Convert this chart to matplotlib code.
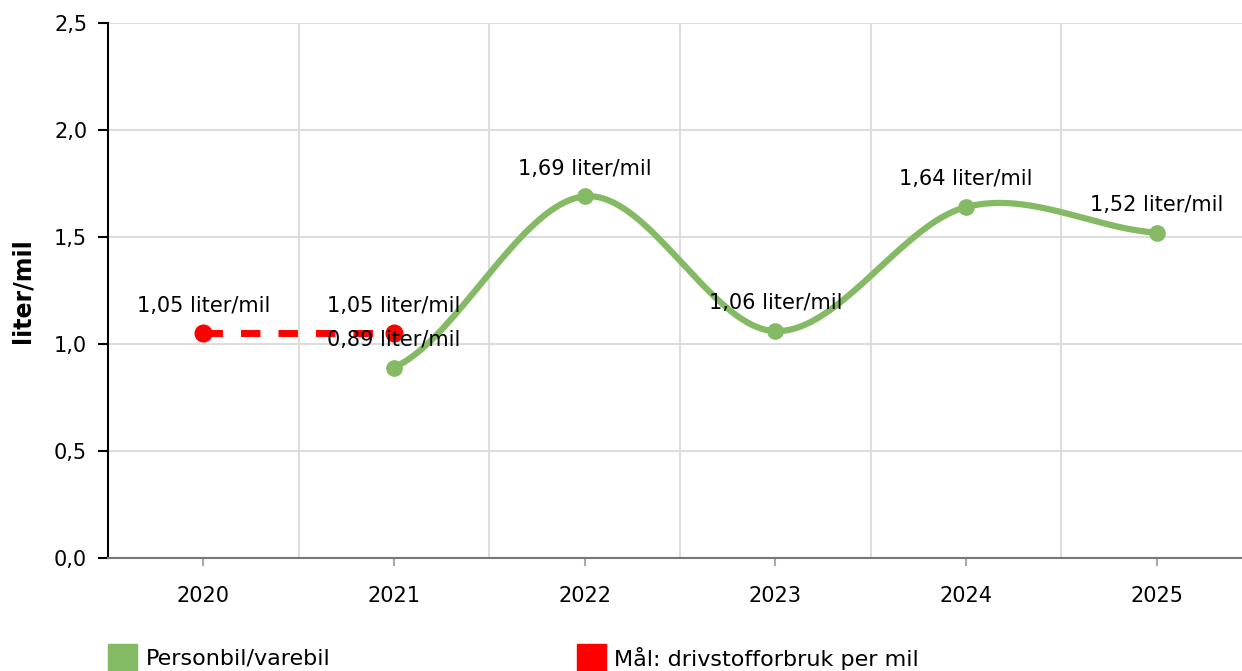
import numpy as np
import matplotlib
matplotlib.use("Agg")
import matplotlib.pyplot as plt
from matplotlib.patches import Rectangle

# data
years = ["2020", "2021", "2022", "2023", "2024", "2025"]
car_years = ["2021", "2022", "2023", "2024", "2025"]
car_values = [0.89, 1.69, 1.06, 1.64, 1.52]
target_years = ["2020", "2021"]
target_values = [1.05, 1.05]
y_ticks = [0.0, 0.5, 1.0, 1.5, 2.0, 2.5]

GREEN = "#84ba64"
RED = "#ff0000"
FS = 15


def fmt(v):
    return f"{v:.2f}".replace(".", ",") + " liter/mil"


def catmull_rom(xs, ys, n=40):
    """
    Smooth curve through the points (cubic Hermite, Catmull-Rom tangents).
    """
    xs = np.asarray(xs, float)
    ys = np.asarray(ys, float)
    m = np.zeros_like(ys)
    m[1:-1] = (ys[2:] - ys[:-2]) / (xs[2:] - xs[:-2])
    m[0] = (ys[1] - ys[0]) / (xs[1] - xs[0]) / 2
    m[-1] = (ys[-1] - ys[-2]) / (xs[-1] - xs[-2]) / 2
    out_x, out_y = [], []
    for i in range(len(xs) - 1):
        h = xs[i + 1] - xs[i]
        t = np.linspace(0, 1, n)
        h00 = 2 * t**3 - 3 * t**2 + 1
        h10 = t**3 - 2 * t**2 + t
        h01 = -2 * t**3 + 3 * t**2
        h11 = t**3 - t**2
        out_x.append(xs[i] + t * h)
        out_y.append(h00 * ys[i] + h10 * h * m[i] + h01 * ys[i + 1] + h11 * h * m[i + 1])
    return np.concatenate(out_x), np.concatenate(out_y)


plt.rcParams["font.family"] = ["DejaVu Sans"]
fig = plt.figure(figsize=(12.42, 6.71), dpi=100)
ax = fig.add_axes([108 / 1242, 113 / 671, 1144 / 1242, 535 / 671])

idx = {y: i for i, y in enumerate(years)}
cx = [idx[y] for y in car_years]
tx = [idx[y] for y in target_years]

sx, sy = catmull_rom(cx, car_values)
ax.plot(sx, sy, color=GREEN, lw=4.5, solid_capstyle="round", zorder=3)
ax.plot(cx, car_values, "o", color=GREEN, ms=11, zorder=4)

ax.plot(tx, target_values, color=RED, lw=5, dashes=(2.8, 2.6), zorder=3)
ax.plot(tx, target_values, "o", color=RED, ms=12, zorder=4)

for x, v in zip(tx, target_values):
    ax.annotate(fmt(v), (x, v), xytext=(0, 20), textcoords="offset points",
                ha="center", va="center", fontsize=FS, zorder=5)
for x, v in zip(cx, car_values):
    ax.annotate(fmt(v), (x, v), xytext=(0, 20), textcoords="offset points",
                ha="center", va="center", fontsize=FS, zorder=5)

ax.set_xlim(-0.5, len(years) - 0.5)
ax.set_ylim(0, 2.5)
ax.set_xticks(range(len(years)))
ax.set_xticklabels(years)
ax.set_xticks(np.arange(0.5, len(years) - 0.5, 1), minor=True)
ax.set_yticks(y_ticks)
ax.set_yticklabels([f"{v:.1f}".replace(".", ",") for v in y_ticks])

ax.grid(True, axis="y", color="#dddddd", lw=1.5)
ax.grid(True, axis="x", which="minor", color="#dddddd", lw=1.5)
ax.set_axisbelow(True)

for s in ["top", "right"]:
    ax.spines[s].set_visible(False)
ax.spines["left"].set_color("black")
ax.spines["left"].set_linewidth(1.5)
ax.spines["bottom"].set_color("#777777")
ax.spines["bottom"].set_linewidth(1.5)

ax.tick_params(axis="x", which="major", length=6, width=1.5, color="#aaaaaa",
               labelsize=FS, pad=14)
ax.tick_params(axis="x", which="minor", length=0)
ax.tick_params(axis="y", length=7, width=1.5, color="black", labelsize=FS, pad=8)
ax.set_ylabel("liter/mil", fontsize=17, fontweight="bold", labelpad=14)

# legend
fig.add_artist(Rectangle((108 / 1242, 0), 29 / 1242, 27 / 671,
                         transform=fig.transFigure, color=GREEN))
fig.text(146 / 1242, 12 / 671, "Personbil/varebil", fontsize=16, va="center")
fig.add_artist(Rectangle((577 / 1242, 0), 29 / 1242, 27 / 671,
                         transform=fig.transFigure, color=RED))
fig.text(614 / 1242, 12 / 671, "Mål: drivstofforbruk per mil", fontsize=16, va="center")

fig.savefig("out.png", dpi=100)
